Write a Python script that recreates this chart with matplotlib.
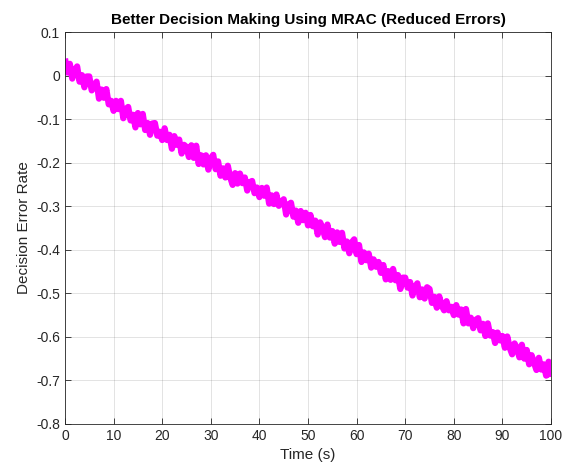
import matplotlib
matplotlib.use('Agg')
import matplotlib.pyplot as plt
import numpy as np

plt.rcParams['font.family'] = ['Liberation Sans', 'DejaVu Sans']

# decision error rate, one value every 0.5 s
error_rate = [
    0.039, 0.007, 0.027, -0.007, 0.012, 0.021, -0.014, 0.001, -0.027, -0.002,
    -0.002, -0.034, -0.022, -0.014, -0.053, -0.032, -0.051, -0.031, -0.066, -0.058,
    -0.081, -0.058, -0.077, -0.058, -0.098, -0.077, -0.072, -0.103, -0.090, -0.119,
    -0.086, -0.112, -0.088, -0.125, -0.109, -0.136, -0.110, -0.109, -0.138, -0.129,
    -0.148, -0.121, -0.148, -0.136, -0.168, -0.139, -0.159, -0.147, -0.179, -0.159,
    -0.164, -0.187, -0.160, -0.189, -0.161, -0.203, -0.183, -0.204, -0.183, -0.216,
    -0.190, -0.182, -0.215, -0.197, -0.230, -0.213, -0.234, -0.207, -0.234, -0.251,
    -0.224, -0.248, -0.225, -0.247, -0.234, -0.264, -0.245, -0.242, -0.270, -0.257,
    -0.279, -0.258, -0.276, -0.257, -0.294, -0.275, -0.295, -0.273, -0.299, -0.291,
    -0.284, -0.319, -0.296, -0.292, -0.324, -0.310, -0.338, -0.311, -0.332, -0.315,
    -0.344, -0.320, -0.346, -0.333, -0.365, -0.337, -0.350, -0.371, -0.342, -0.372,
    -0.357, -0.386, -0.360, -0.382, -0.361, -0.397, -0.381, -0.408, -0.383, -0.376,
    -0.410, -0.389, -0.428, -0.406, -0.424, -0.409, -0.441, -0.422, -0.439, -0.428,
    -0.453, -0.435, -0.468, -0.449, -0.469, -0.444, -0.470, -0.458, -0.490, -0.464,
    -0.464, -0.487, -0.474, -0.505, -0.485, -0.477, -0.509, -0.491, -0.512, -0.486,
    -0.490, -0.522, -0.508, -0.533, -0.507, -0.528, -0.539, -0.518, -0.539, -0.531,
    -0.550, -0.527, -0.549, -0.537, -0.569, -0.536, -0.569, -0.556, -0.580, -0.561,
    -0.557, -0.585, -0.570, -0.598, -0.569, -0.597, -0.589, -0.614, -0.590, -0.608,
    -0.598, -0.625, -0.599, -0.625, -0.640, -0.615, -0.626, -0.647, -0.618, -0.650,
    -0.630, -0.663, -0.642, -0.659, -0.676, -0.648, -0.675, -0.663, -0.689, -0.657,
    -0.692,
]
time = np.linspace(0, 100, len(error_rate))

x_ticks = np.arange(0, 101, 10)
y_ticks = np.round(np.arange(-0.8, 0.11, 0.1), 1)
y_labels = ['-0.8', '-0.7', '-0.6', '-0.5', '-0.4', '-0.3', '-0.2', '-0.1', '0', '0.1']

fig = plt.figure(figsize=(5.69, 4.71), dpi=100)
ax = fig.add_axes([0.1142, 0.0998, 0.8542, 0.8322])

ax.plot(time, error_rate, color='#FF00FF', linewidth=4.5,
        solid_joinstyle='round', solid_capstyle='butt')

ax.set_xlim(0, 100)
ax.set_ylim(-0.8, 0.1)
ax.set_xticks(x_ticks)
ax.set_yticks(y_ticks)
ax.set_yticklabels(y_labels)

# matlab-like look
ax.grid(True, color='#262626', alpha=0.15, linewidth=0.6)
ax.tick_params(direction='in', top=True, right=True, length=4, width=0.6,
               colors='#262626', labelsize=10)
for s in ax.spines.values():
    s.set_color('#262626')
    s.set_linewidth(0.6)

ax.set_title('Better Decision Making Using MRAC (Reduced Errors)',
             fontsize=11, fontweight='bold', pad=6)
ax.set_xlabel('Time (s)', fontsize=11, color='#262626')
ax.set_ylabel('Decision Error Rate', fontsize=11, color='#262626')

fig.savefig('out.png', dpi=100)
